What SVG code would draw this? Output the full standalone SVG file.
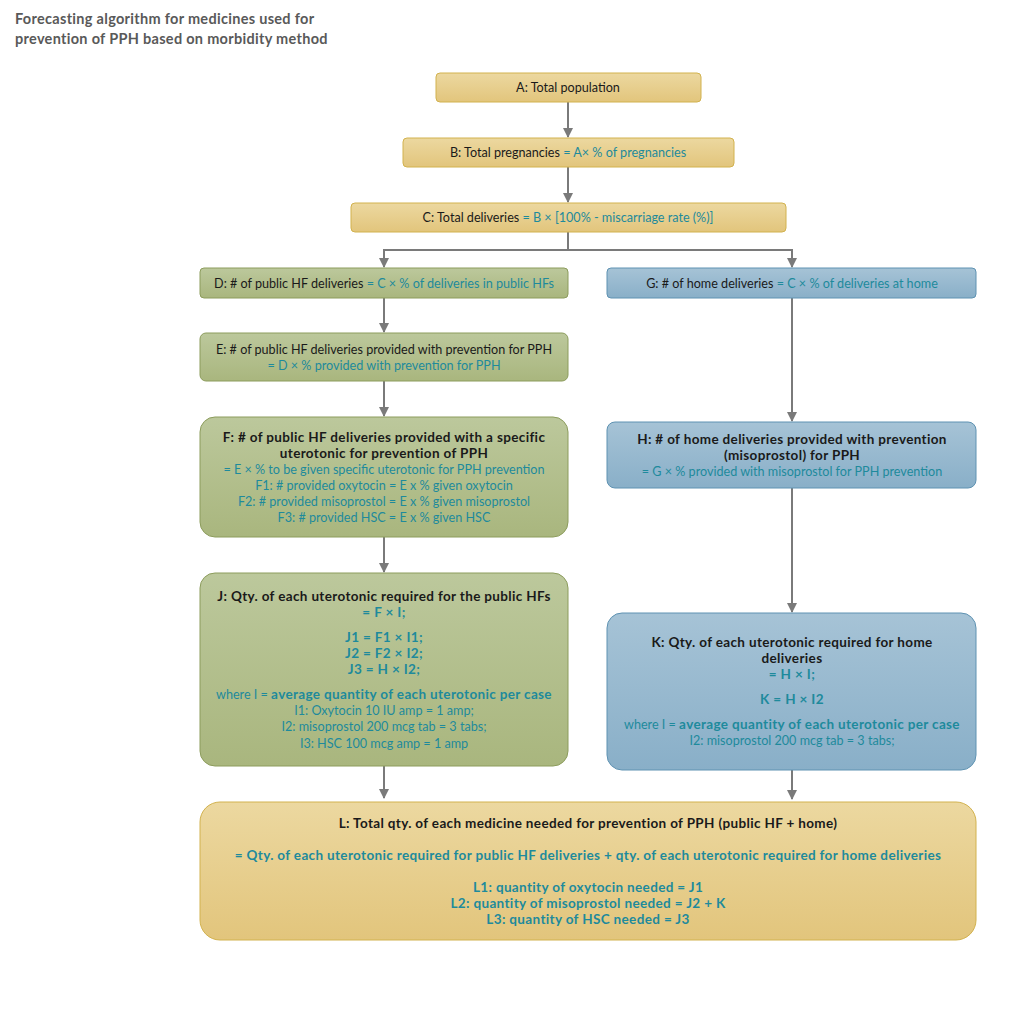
<svg xmlns="http://www.w3.org/2000/svg" width="1024" height="1024" viewBox="0 0 1024 1024">
<defs>
<linearGradient id="gGold" x1="0" y1="0" x2="0" y2="1"><stop offset="0" stop-color="#ecd8a0"/><stop offset="1" stop-color="#e2c57c"/></linearGradient>
<linearGradient id="gGreen" x1="0" y1="0" x2="0" y2="1"><stop offset="0" stop-color="#bcc89c"/><stop offset="1" stop-color="#a9b67e"/></linearGradient>
<linearGradient id="gBlue" x1="0" y1="0" x2="0" y2="1"><stop offset="0" stop-color="#a6c3d6"/><stop offset="1" stop-color="#89afc8"/></linearGradient>
<marker id="arr" viewBox="0 0 10 10" refX="9" refY="5" markerWidth="5" markerHeight="5" orient="auto"><path d="M0,0 L10,5 L0,10 z" fill="#7a7a7a"/></marker>
<style>
text{font-family:Lato,"Open Sans","Liberation Sans",sans-serif;font-size:12.6px;text-anchor:middle;fill:#1a1a1a}
.t{fill:#1e8a9c}
.b{font-weight:bold;font-size:13.5px;letter-spacing:0.35px}
.gold{fill:url(#gGold);stroke:#d2b24e;stroke-width:1}
.green{fill:url(#gGreen);stroke:#8c9c5c;stroke-width:1}
.blue{fill:url(#gBlue);stroke:#5e92b2;stroke-width:1}
.con{stroke:#7a7a7a;stroke-width:2;fill:none}
.title{font-size:14.5px;font-weight:bold;fill:#595959;text-anchor:start;letter-spacing:0.3px}
</style>
</defs>
<rect width="1024" height="1024" fill="#ffffff"/>
<g id="title">
<text class="title" x="15" y="24">Forecasting algorithm for medicines used for</text>
<text class="title" x="15" y="44">prevention of PPH based on morbidity method</text>
</g>
<g id="connectors">
<line class="con" x1="568" y1="102" x2="568" y2="137" marker-end="url(#arr)"/>
<line class="con" x1="568" y1="167" x2="568" y2="202" marker-end="url(#arr)"/>
<polyline class="con" points="568,232 568,250"/>
<polyline class="con" points="384,267 384,250 792,250 792,267" marker-end="url(#arr)"/>
<line class="con" x1="384" y1="250" x2="384" y2="267" marker-end="url(#arr)"/>
<line class="con" x1="384" y1="298" x2="384" y2="332" marker-end="url(#arr)"/>
<line class="con" x1="384" y1="381" x2="384" y2="416" marker-end="url(#arr)"/>
<line class="con" x1="384" y1="537" x2="384" y2="572" marker-end="url(#arr)"/>
<line class="con" x1="384" y1="766" x2="384" y2="798" marker-end="url(#arr)"/>
<line class="con" x1="792" y1="298" x2="792" y2="421" marker-end="url(#arr)"/>
<line class="con" x1="792" y1="488" x2="792" y2="612" marker-end="url(#arr)"/>
<line class="con" x1="792" y1="770" x2="792" y2="799" marker-end="url(#arr)"/>
</g>
<g id="A">
<rect class="gold" x="436" y="73" width="265" height="29" rx="4"/>
<text x="568" y="92">A: Total population</text>
</g>
<g id="B">
<rect class="gold" x="403" y="138" width="331" height="29" rx="4"/>
<text x="568" y="157">B: Total pregnancies <tspan class="t">= A× % of pregnancies</tspan></text>
</g>
<g id="C">
<rect class="gold" x="351" y="203" width="435" height="29" rx="4"/>
<text x="568" y="222">C: Total deliveries <tspan class="t">= B × [100% - miscarriage rate (%)]</tspan></text>
</g>
<g id="D">
<rect class="green" x="200" y="268" width="368" height="30" rx="4"/>
<text x="384" y="288">D: # of public HF deliveries <tspan class="t">= C × % of deliveries in public HFs</tspan></text>
</g>
<g id="G">
<rect class="blue" x="607" y="268" width="369" height="30" rx="4"/>
<text x="792" y="288">G: # of home deliveries <tspan class="t">= C × % of deliveries at home</tspan></text>
</g>
<g id="E">
<rect class="green" x="200" y="333" width="368" height="48" rx="6"/>
<text x="384" y="354">E: # of public HF deliveries provided with prevention for PPH</text>
<text class="t" x="384" y="370">= D × % provided with prevention for PPH</text>
</g>
<g id="F">
<rect class="green" x="200" y="417" width="368" height="120" rx="15"/>
<text class="b" x="384" y="442">F: # of public HF deliveries provided with a specific</text>
<text class="b" x="384" y="458">uterotonic for prevention of PPH</text>
<text class="t" x="384" y="474">= E × % to be given specific uterotonic for PPH prevention</text>
<text class="t" x="384" y="490">F1: # provided oxytocin = E x % given oxytocin</text>
<text class="t" x="384" y="506">F2: # provided misoprostol = E x % given misoprostol</text>
<text class="t" x="384" y="522">F3: # provided HSC = E x % given HSC</text>
</g>
<g id="H">
<rect class="blue" x="607" y="422" width="369" height="66" rx="8"/>
<text class="b" x="792" y="444">H: # of home deliveries provided with prevention</text>
<text class="b" x="792" y="460">(misoprostol) for PPH</text>
<text class="t" x="792" y="476">= G × % provided with misoprostol for PPH prevention</text>
</g>
<g id="J">
<rect class="green" x="200" y="573" width="368" height="193" rx="15"/>
<text class="b" x="384" y="601">J: Qty. of each uterotonic required for the public HFs</text>
<text class="b t" x="384" y="617">= F × I;</text>
<text class="b t" x="384" y="642">J1 = F1 × I1;</text>
<text class="b t" x="384" y="658">J2 = F2 × I2;</text>
<text class="b t" x="384" y="674">J3 = H × I2;</text>
<text class="t" x="384" y="699">where I = <tspan class="b">average quantity of each uterotonic per case</tspan></text>
<text class="t" x="384" y="715">I1: Oxytocin 10 IU amp = 1 amp;</text>
<text class="t" x="384" y="731">I2: misoprostol 200 mcg tab = 3 tabs;</text>
<text class="t" x="384" y="748">I3: HSC 100 mcg amp = 1 amp</text>
</g>
<g id="K">
<rect class="blue" x="607" y="613" width="369" height="157" rx="15"/>
<text class="b" x="792" y="647">K: Qty. of each uterotonic required for home</text>
<text class="b" x="792" y="663">deliveries</text>
<text class="b t" x="792" y="679">= H × I;</text>
<text class="b t" x="792" y="704">K = H × I2</text>
<text class="t" x="792" y="729">where I = <tspan class="b">average quantity of each uterotonic per case</tspan></text>
<text class="t" x="792" y="745">I2: misoprostol 200 mcg tab = 3 tabs;</text>
</g>
<g id="L">
<rect class="gold" x="200" y="802" width="776" height="138" rx="20"/>
<text class="b" x="588" y="828">L: Total qty. of each medicine needed for prevention of PPH (public HF + home)</text>
<text class="b t" x="588" y="860">= Qty. of each uterotonic required for public HF deliveries + qty. of each uterotonic required for home deliveries</text>
<text class="b t" x="588" y="892">L1: quantity of oxytocin needed = J1</text>
<text class="b t" x="588" y="908">L2: quantity of misoprostol needed = J2 + K</text>
<text class="b t" x="588" y="924">L3: quantity of HSC needed = J3</text>
</g>
</svg>
